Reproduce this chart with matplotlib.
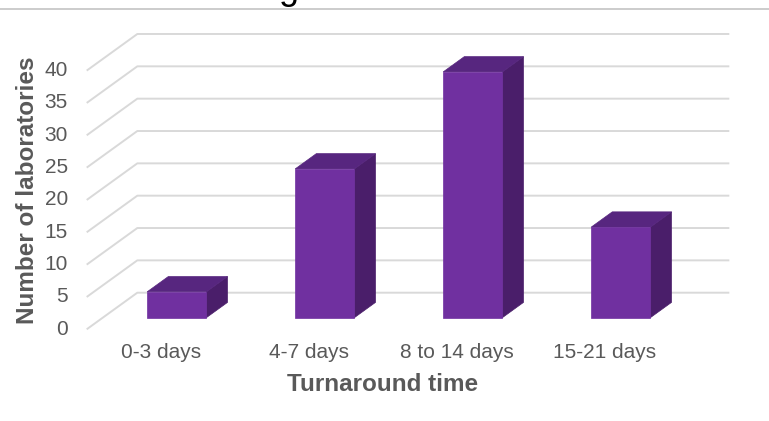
import matplotlib
matplotlib.use("Agg")
import matplotlib.pyplot as plt
from matplotlib.patches import Polygon
from matplotlib.lines import Line2D

# ---- data ----
categories = ["0-3 days", "4-7 days", "8 to 14 days", "15-21 days"]
values = [4, 23, 38, 14]
y_ticks = [0, 5, 10, 15, 20, 25, 30, 35, 40]
x_title = "Turnaround time"
y_title = "Number of laboratories"

# ---- style / geometry ----
W, H, DPI = 769, 421, 100
FRONT = "#7030A0"
TOP = "#57267F"
SIDE = "#4A1E6A"
GRID = "#D9D9D9"
TEXT = "#595959"
FONT = ["Liberation Sans", "DejaVu Sans"]

# oblique depth offset of the whole floor (data units)
DX, DY = 0.342, 5.66
D0, D1 = 0.317, 0.735      # bar depth span (fraction of floor depth)
BAR_W = 0.40

fig = plt.figure(figsize=(W / DPI, H / DPI), dpi=DPI)
ax = fig.add_axes([0, 0, 1, 1])
px_per_cat = 148.0
px_per_val = 6.4675
x0_px, y0_px = 86.7, 329.3
ax.set_xlim(-0.5 - x0_px / px_per_cat, -0.5 + (W - x0_px) / px_per_cat)
ax.set_ylim((y0_px - H) / px_per_val, y0_px / px_per_val)
ax.axis("off")

n = len(categories)
xl, xr = -0.5, n - 0.5

# gridlines: side wall diagonal + back wall horizontal
for v in y_ticks:
    ax.plot([xl, xl + DX, xr + DX], [v, v + DY, v + DY],
            color=GRID, lw=1.4, zorder=1, solid_capstyle="butt")
    ax.text(xl - 0.128, v, str(v), ha="right", va="center",
            fontsize=15, color=TEXT, family=FONT)

# bars
for i, v in enumerate(values):
    a, b = i - BAR_W / 2, i + BAR_W / 2
    ox0, oy0 = D0 * DX, D0 * DY
    ox1, oy1 = D1 * DX, D1 * DY
    front = [(a + ox0, oy0), (b + ox0, oy0), (b + ox0, v + oy0), (a + ox0, v + oy0)]
    top = [(a + ox0, v + oy0), (b + ox0, v + oy0), (b + ox1, v + oy1), (a + ox1, v + oy1)]
    side = [(b + ox0, oy0), (b + ox1, oy1), (b + ox1, v + oy1), (b + ox0, v + oy0)]
    for pts, col in ((side, SIDE), (top, TOP), (front, FRONT)):
        ax.add_patch(Polygon(pts, closed=True, facecolor=col, edgecolor=col,
                             lw=0.5, zorder=3, joinstyle="miter"))
    ax.text(i, -3.66, categories[i], ha="center", va="center",
            fontsize=15, color=TEXT, family=FONT)

ax.text((n - 1) / 2, -8.46, x_title, ha="center", va="center",
        fontsize=17.5, fontweight="bold", color=TEXT, family=FONT)
ax.text(-0.903, 21.5, y_title, ha="center", va="center", rotation=90,
        fontsize=17.5, fontweight="bold", color=TEXT, family=FONT)

# cut-off title fragment and separator line at the top
fig.add_artist(Line2D([0, 1], [1 - 8.8 / H, 1 - 8.8 / H], color="#C4C4C4",
                      lw=1.2, transform=fig.transFigure))
fig.text(288 / W, 1 + 1.5 / H, "g", ha="center", va="baseline",
         fontsize=26, color="black", family=FONT)

fig.savefig("out.png", dpi=DPI)
